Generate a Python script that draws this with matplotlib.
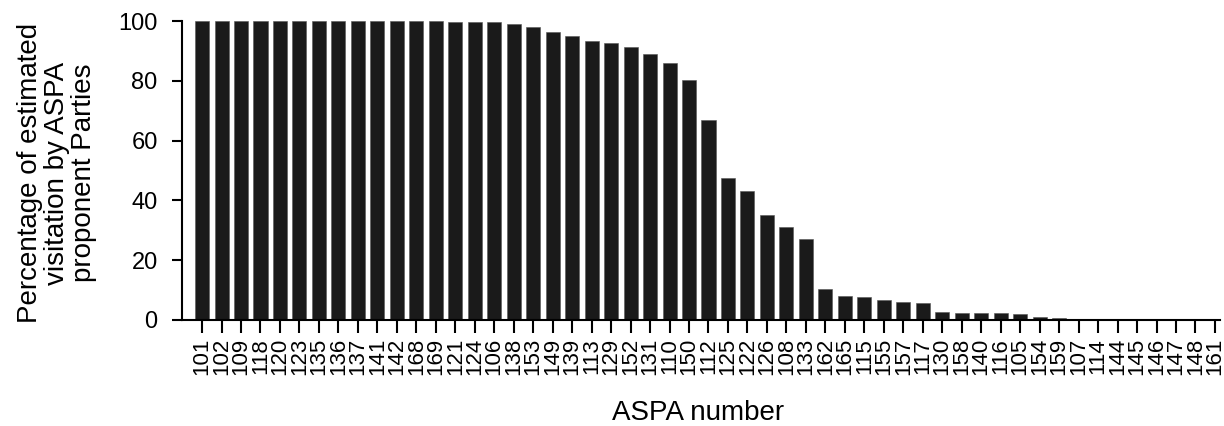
import numpy as np
import matplotlib.pyplot as plt

plt.rcParams['font.family'] = ['Liberation Sans', 'DejaVu Sans']

# ASPA numbers in the order shown
aspa = ["101", "102", "109", "118", "120", "123", "135", "136", "137", "141",
        "142", "168", "169", "121", "124", "106", "138", "153", "149", "139",
        "113", "129", "152", "131", "110", "150", "112", "125", "122", "126",
        "108", "133", "162", "165", "115", "155", "157", "117", "130", "158",
        "140", "116", "105", "154", "159", "107", "114", "144", "145", "146",
        "147", "148", "161"]

# percentage of estimated visitation by proponent Parties
pct = [100, 100, 100, 100, 100, 100, 100, 100, 100, 100,
       100, 100, 100, 99.8, 99.6, 99.5, 99.0, 97.9, 96.4, 95.1,
       93.2, 92.5, 91.2, 88.9, 85.8, 80.2, 67.0, 47.4, 43.2, 35.0,
       31.0, 27.0, 10.5, 8.0, 7.6, 6.8, 5.9, 5.6, 2.8, 2.3,
       2.3, 2.2, 2.0, 1.1, 0.6, 0, 0, 0, 0, 0,
       0, 0, 0]

fig = plt.figure(figsize=(12.24, 4.26), dpi=100)
ax = fig.add_axes([182/1224, 106/426, 1038/1224, 299/426])

X = np.arange(len(aspa))
ax.bar(X, pct, width=0.72, color="#1a1a1a", edgecolor="#555555", linewidth=0.4)

ax.set_xlim(-1.03, len(aspa) - 1 + 0.26)
ax.set_ylim(0, 100)
ax.set_yticks([0, 20, 40, 60, 80, 100])
ax.set_xticks(X)
ax.set_xticklabels(aspa, rotation=90, fontsize=16)
ax.tick_params(axis='y', labelsize=17, length=7.5, width=1.5, pad=10)
ax.tick_params(axis='x', length=9, width=1.5, pad=4)

for s in ["top", "right"]:
    ax.spines[s].set_visible(False)
ax.spines["left"].set_linewidth(1.5)
ax.spines["bottom"].set_linewidth(1.5)

fig.text(698/1224, 1 - 413/426, "ASPA number", ha="center", va="center", fontsize=20)
fig.text(57/1224, 1 - 173/426, "Percentage of estimated\nvisitation by ASPA\nproponent Parties",
         ha="center", va="center", rotation=90, fontsize=20, linespacing=1.05)

plt.savefig("out.png")
